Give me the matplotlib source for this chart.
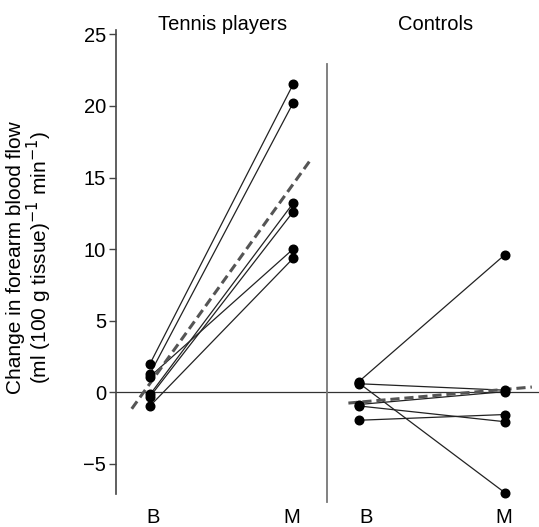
import numpy as np
import matplotlib.pyplot as plt

plt.rcParams['font.family'] = ['Liberation Sans', 'DejaVu Sans']

# data
tennis_b = [2.0, 1.3, 1.1, -0.15, -0.3, -0.95]
tennis_m = [21.5, 20.2, 10.0, 13.2, 12.6, 9.35]
control_b = [0.75, 0.6, 0.65, -0.85, -0.95, -1.95]
control_m = [9.6, 0.15, -7.0, 0.05, -2.05, -1.55]

# regression lines (end points)
tennis_fit_x = [-0.128, 1.12]
tennis_fit_y = [-1.15, 16.2]
control_fit_x = [1.387, 2.67]
control_fit_y = [-0.75, 0.37]

tennis_x = [0.0, 1.0]
control_x = [1.46, 2.48]
label_x = [0.02, 0.99, 1.51, 2.47]
labels = ['B', 'M', 'B', 'M']
titles = ['Tennis players', 'Controls']
title_x = [0.51, 2.0]

fig = plt.figure(figsize=(5.39, 5.27), dpi=100)
ax = fig.add_axes([0.2147, 0.0626, 0.7853, 0.8804])
ax.set_xlim(-0.24, 2.72)
ax.set_ylim(-7.1, 25.3)

for b, m in zip(tennis_b, tennis_m):
    ax.plot(tennis_x, [b, m], '-', color='#222222', lw=0.9, zorder=2, clip_on=False)
for b, m in zip(control_b, control_m):
    ax.plot(control_x, [b, m], '-', color='#222222', lw=0.9, zorder=2, clip_on=False)

ax.plot([tennis_x[0]] * len(tennis_b), tennis_b, 'o', color='black', ms=6.2, zorder=4, clip_on=False)
ax.plot([tennis_x[1]] * len(tennis_m), tennis_m, 'o', color='black', ms=6.2, zorder=4, clip_on=False)
ax.plot([control_x[0]] * len(control_b), control_b, 'o', color='black', ms=6.2, zorder=4, clip_on=False)
ax.plot([control_x[1]] * len(control_m), control_m, 'o', color='black', ms=6.2, zorder=4, clip_on=False)

ax.plot(tennis_fit_x, tennis_fit_y, '--', color='#555555', lw=2.2, dashes=(3, 1.6), zorder=3)
ax.plot(control_fit_x, control_fit_y, '--', color='#555555', lw=2.2, dashes=(3, 1.6), zorder=3)

# zero line and panel divider
ax.axhline(0, color='#333333', lw=0.9, zorder=1)
ax.plot([1.24, 1.24], [-7.65, 22.9], color='#777777', lw=1.3, clip_on=False, zorder=1)

for x, s in zip(label_x, labels):
    ax.text(x, -8.75, s, ha='center', va='center', fontsize=14.5, clip_on=False)
for x, s in zip(title_x, titles):
    ax.text(x, 25.7, s, ha='center', va='center', fontsize=14.5, clip_on=False)

for side in ['top', 'right', 'bottom']:
    ax.spines[side].set_visible(False)
ax.spines['left'].set_color('#444444')
ax.spines['left'].set_linewidth(1.2)
ax.set_xticks([])
ax.set_yticks([-5, 0, 5, 10, 15, 20, 25])
ax.set_yticklabels(['\u22125', '0', '5', '10', '15', '20', '25'])
ax.tick_params(axis='y', direction='out', length=5, width=1, color='#444444',
               labelsize=14.5, pad=2)

fig.text(0.056, 0.512,
         'Change in forearm blood flow\n(ml (100 g tissue)$^{-1}$ min$^{-1}$)',
         rotation=90, ha='center', va='center', multialignment='center',
         fontsize=15, linespacing=1.0)

fig.savefig('out.png', dpi=100)
